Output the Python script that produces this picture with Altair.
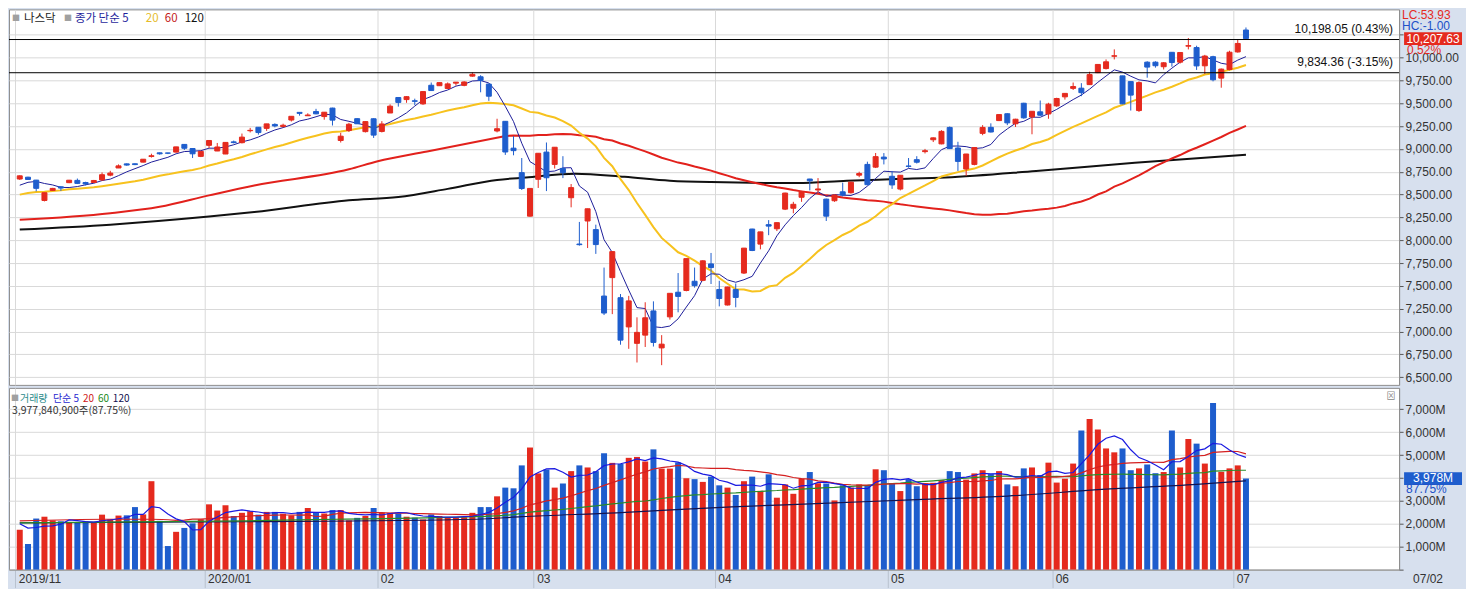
import altair as alt
import pandas as pd

# ---------------- data ----------------
opens = [8670, 8690, 8658, 8435, 8545, 8585, 8630, 8655, 8632, 8632,
         8660, 8712, 8791, 8836, 8837, 8855, 8917, 8957, 8955, 8965,
         9049, 9004, 8918, 9039, 8977, 8944, 9077, 9068, 9199, 9237,
         9225, 9268, 9245, 9316, 9400, 9363, 9409, 9354, 9447, 9092,
         9201, 9331, 9189, 9330, 9191, 9393, 9563, 9540, 9527, 9493,
         9697, 9692, 9662, 9720, 9696, 9797, 9790, 9710, 9196, 9302,
         9008, 8740, 8263, 8667, 8965, 8830, 8786, 8465, 7958, 8210,
         8116, 7388, 7590, 7370, 7050, 6870, 6960, 7225, 6820, 7160,
         7430, 7449, 7550, 7560, 7740, 7460, 7290, 7459, 7640, 8122,
         7957, 8170, 8125, 8340, 8350, 8470, 8670, 8550, 8450, 8432,
         8530, 8520, 8712, 8830, 8800, 8910, 8700, 8560, 8812, 8882,
         8970, 9100, 9055, 9235, 9010, 8780, 8830, 9170, 9236, 9310,
         9385, 9275, 9500, 9350, 9406, 9383, 9471, 9570, 9663, 9665,
         9704, 9835, 9880, 10015, 9800, 9737, 9420, 9950, 9950, 9900,
         10058, 9950, 10125, 10110, 9910, 10010, 9775, 9870, 10062, 10302]
highs = [8710, 8695, 8660, 8520, 8573, 8590, 8660, 8675, 8640, 8660,
         8742, 8760, 8830, 8840, 8841, 8888, 8947, 8960, 8957, 9023,
         9052, 9006, 8973, 9093, 9065, 9072, 9091, 9168, 9230, 9239,
         9274, 9280, 9276, 9357, 9400, 9390, 9439, 9404, 9451, 9176,
         9285, 9336, 9303, 9335, 9304, 9488, 9563, 9577, 9550, 9628,
         9727, 9728, 9728, 9732, 9741, 9838, 9807, 9712, 9330, 9305,
         9140, 8900, 8567, 8952, 9070, 9018, 8920, 8615, 8200, 8345,
         8170, 7700, 7875, 7410, 7390, 7155, 7320, 7330, 6960, 7420,
         7640, 7800, 7700, 7780, 7860, 7555, 7490, 7525, 7915, 8125,
         8092, 8220, 8195, 8520, 8420, 8540, 8672, 8680, 8455, 8500,
         8630, 8640, 8750, 8860, 8955, 8954, 8758, 8711, 8900, 8920,
         9000, 9125, 9205, 9245, 9078, 8945, 9020, 9260, 9280, 9380,
         9390, 9330, 9505, 9415, 9530, 9505, 9560, 9610, 9727, 9720,
         9845, 9927, 9980, 10090, 9801, 9740, 9740, 9960, 9960, 9950,
         10060, 10060, 10215, 10130, 10030, 10020, 9880, 10075, 10200, 10330]
lows = [8660, 8660, 8535, 8425, 8540, 8540, 8625, 8615, 8600, 8630,
        8650, 8700, 8790, 8815, 8822, 8852, 8905, 8937, 8943, 8960,
        8988, 8900, 8910, 9010, 8976, 8943, 9060, 9060, 9180, 9156,
        9197, 9236, 9236, 9300, 9364, 9360, 9379, 9320, 9256, 9070,
        9185, 9272, 9180, 9120, 9180, 9393, 9463, 9505, 9480, 9483,
        9635, 9690, 9655, 9693, 9686, 9790, 9620, 9526, 9181, 8934,
        8930, 8550, 8258, 8572, 8538, 8785, 8680, 8360, 7940, 7914,
        7850, 7180, 7190, 6855, 6810, 6660, 6830, 6835, 6631, 7130,
        7210, 7440, 7480, 7550, 7520, 7275, 7285, 7265, 7630, 7880,
        7900, 8055, 8100, 8330, 8295, 8420, 8545, 8510, 8210, 8420,
        8480, 8510, 8690, 8600, 8790, 8830, 8562, 8545, 8794, 8840,
        8950, 9075, 9050, 9000, 8758, 8705, 8820, 9150, 9180, 9305,
        9260, 9240, 9330, 9160, 9360, 9330, 9460, 9540, 9645, 9577,
        9700, 9830, 9870, 9980, 9490, 9420, 9405, 9780, 9890, 9870,
        9900, 9935, 10090, 9865, 9820, 9740, 9670, 9860, 10055, 10200]
closes = [8705, 8665, 8568, 8520, 8567, 8571, 8657, 8622, 8616, 8654,
          8717, 8735, 8814, 8823, 8828, 8887, 8925, 8946, 8953, 9022,
          9007, 8946, 8973, 9092, 9021, 9071, 9069, 9129, 9203, 9179,
          9274, 9251, 9259, 9357, 9389, 9371, 9384, 9402, 9315, 9139,
          9270, 9275, 9299, 9151, 9273, 9468, 9509, 9572, 9521, 9628,
          9639, 9726, 9712, 9731, 9733, 9817, 9751, 9577, 9221, 8966,
          8981, 8566, 8567, 8952, 8684, 9018, 8739, 8576, 7951, 8344,
          7952, 7202, 7875, 6905, 7335, 6990, 7150, 6880, 6861, 7418,
          7384, 7798, 7502, 7774, 7700, 7361, 7487, 7373, 7913, 7887,
          8091, 8154, 8192, 8516, 8393, 8532, 8650, 8561, 8263, 8495,
          8495, 8635, 8730, 8608, 8915, 8890, 8605, 8711, 8809, 8854,
          8980, 9121, 9192, 9003, 8863, 8944, 9015, 9235, 9185, 9376,
          9285, 9325, 9340, 9412, 9369, 9490, 9552, 9608, 9683, 9616,
          9814, 9925, 9954, 10020, 9493, 9589, 9726, 9896, 9911, 9943,
          9946, 10056, 10131, 9909, 10017, 9757, 9874, 10059, 10155, 10208]
volumes = [1740, 1120, 2230, 2310, 2150, 2110, 2040, 2080, 2110, 2040,
           2400, 2200, 2360, 2370, 2730, 2410, 3860, 2130, 1030, 1650,
           1820, 2020, 2200, 2850, 2580, 2810, 2340, 2480, 2550, 2400,
           2520, 2520, 2440, 2370, 2520, 2690, 2480, 2450, 2600, 2600,
           2150, 2260, 2340, 2690, 2480, 2480, 2450, 2310, 2270, 2190,
           2410, 2340, 2270, 2270, 2290, 2480, 2730, 2730, 3200, 3580,
           3550, 4550, 5330, 4200, 4370, 3580, 3760, 4300, 4550, 4460,
           4300, 5080, 4660, 4610, 4880, 4920, 4720, 5250, 4410, 4410,
           4680, 3990, 3950, 3830, 4060, 3680, 3580, 3260, 3860, 4060,
           3440, 4160, 3140, 3720, 3310, 3970, 4260, 3770, 3760, 3020,
           3680, 3580, 3720, 3680, 4380, 4340, 3760, 3430, 3950, 3640,
           3760, 3790, 3910, 4300, 4260, 3930, 4200, 4340, 4170, 4300,
           3720, 3640, 4420, 4460, 4130, 4670, 3800, 3970, 4630, 6070,
           6570, 6120, 5290, 5120, 5290, 4340, 4420, 4590, 4210, 4260,
           6070, 4460, 5700, 5500, 4630, 7270, 4270, 4420, 4550, 3978]

# closes / volumes of the sessions just before the first candle (feed the averages)
prior_closes = [8292, 8386, 8433, 8435, 8411, 8435, 8475, 8464, 8486, 8482,
                8479, 8541, 8550, 8571, 8527, 8506, 8520, 8632, 8648]
prior_volumes = [2050, 2100, 2000, 2110]

month_start_idx = [0, 23, 44, 63, 85, 106, 126, 148]
month_labels = ["2019/11", "2020/01", "02", "03", "04", "05", "06", "07"]

# long averages (bar index, value)
ma60_early_idx = [0, 11, 17, 23, 28.5, 40, 43.5, 49.5, 59]
ma60_early_val = [8223, 8295, 8366, 8491, 8600, 8776, 8865, 8972, 9141]
ma120_idx = [0, 11, 23, 28.5, 40, 46, 52, 58, 61.5, 67.5, 73.5, 79, 84,
             94.5, 100.5, 106.5, 112.5, 123.5, 135.5, 149]
ma120_val = [8117, 8170, 8259, 8308, 8437, 8473, 8562, 8660, 8687, 8729, 8694,
             8651, 8636, 8626, 8651, 8669, 8687, 8758, 8847, 8936]
vma20_early_idx = [0, 10.5, 16, 19]
vma20_early_val = [2130, 2200, 2200, 2154]
vma60_early_idx = [0, 27.5, 38.5, 55.5, 59]
vma60_early_val = [2040, 2130, 2200, 2310, 2370]
vma120_idx = [0, 27.5, 55.5, 61, 72.5, 86.5, 97.5, 109, 120, 131.5, 143, 149]
vma120_val = [2040, 2090, 2200, 2310, 2480, 2740, 2890, 3060, 3210, 3500, 3720, 3880]

hline_prices = [10198.05, 9834.36]
hline_texts = ["10,198.05 (0.43%)", "9,834.36 (-3.15%)"]
last_close = [10207.63]
last_volume = [3977.8409]

# ---------------- styling ----------------
RED = "#e52a1e"
BLUE = "#1e5dcd"
GOLD = "#f7c21e"
RED60 = "#e2211c"
NAVY = "#1e1e9a"
BLK = "#111111"
BG = "#d7e0ee"
GRID = "#d9d9d9"
KR = "Noto Sans CJK KR"
NUM = "Liberation Sans"

W, H1, H2 = 1392, 376, 182

n = len(closes)
df = pd.DataFrame({"i": list(range(n)), "open": opens, "high": highs,
                   "low": lows, "close": closes, "vol": volumes})
ma_df = pd.DataFrame({"i": list(range(-len(prior_closes), 0)) + list(range(n)),
                      "close": prior_closes + closes})
vma_df = pd.DataFrame({"i": list(range(-len(prior_volumes), 0)) + list(range(n)),
                       "vol": prior_volumes + volumes})

XS = alt.Scale(domain=[-0.7, 167.0], nice=False, zero=False)
PS = alt.Scale(domain=[6415, 10528], nice=False, zero=False)
VS = alt.Scale(domain=[0, 7934], nice=False, zero=False)

tick_vals = [m - 0.55 for m in month_start_idx]
expr = "'" + month_labels[-1] + "'"
for k in range(len(month_start_idx) - 2, -1, -1):
    expr = f"datum.value < {month_start_idx[k + 1] - 1} ? '{month_labels[k]}' : ({expr})"

PXAX = alt.Axis(values=tick_vals, grid=True, gridColor=GRID, labels=False,
                ticks=False, domain=False, title=None)
VXAX = alt.Axis(values=tick_vals, grid=True, gridColor=GRID, labelExpr=expr,
                tickSize=18, tickColor="#b9c2cf", labelPadding=-9, labelAlign="left",
                labelBaseline="middle", labelOffset=3, labelFlush=False, labelOverlap=False,
                domain=True, domainColor="#8f8f8f", title=None, labelFontSize=12,
                labelColor="#333333", labelFont=NUM)
# labels hidden behind the last-price / last-volume badges in the reference
PYAX = alt.Axis(orient="right", values=list(range(6500, 10251, 250)),
                labelExpr="datum.value > 10100 ? '' : format(datum.value, ',.2f')",
                grid=True, gridColor=GRID, tickSize=4, tickColor="#555555",
                labelPadding=2, labelFlush=False, labelOverlap=False,
                domainColor="#8f8f8f", title=None, minExtent=66, maxExtent=66,
                labelFontSize=12, labelColor="#333333", labelFont=NUM)
VYAX = alt.Axis(orient="right", values=list(range(0, 7001, 1000)),
                labelExpr="(datum.value == 0 || datum.value == 4000) ? '' : format(datum.value, ',') + 'M'",
                grid=True, gridColor=GRID, tickSize=4, tickColor="#555555",
                labelPadding=2, labelFlush=False, labelOverlap=False,
                domainColor="#8f8f8f", title=None, minExtent=66, maxExtent=66,
                labelFontSize=12, labelColor="#333333", labelFont=NUM)

Xp = alt.X("i:Q", scale=XS, axis=PXAX)
Xv = alt.X("i:Q", scale=XS, axis=VXAX)


def Yp(f):
    return alt.Y(f, type="quantitative", scale=PS, axis=PYAX)


def Yv(f):
    return alt.Y(f, type="quantitative", scale=VS, axis=VYAX)


up = alt.datum.close > alt.datum.open
col = alt.condition(up, alt.value(RED), alt.value(BLUE))
one = pd.DataFrame({"k": [0]})


def txt(s, px, py, color, size=12, align="left", font=KR, weight="normal"):
    return alt.Chart(one).mark_text(text=s, align=align, baseline="middle", color=color,
                                    fontSize=size, font=font, fontWeight=weight).encode(
        x=alt.value(px), y=alt.value(py))


def computed_ma(data, field, nwin, start, color, width, X, Y):
    return (alt.Chart(data)
            .transform_window(m=f"mean({field})", frame=[-(nwin - 1), 0], sort=[alt.SortField("i")])
            .transform_filter(alt.datum.i >= start)
            .mark_line(color=color, strokeWidth=width)
            .encode(x=X, y=Y("m")))


def sampled(idx, val, color, width, X, Y):
    return alt.Chart(pd.DataFrame({"i": idx, "v": val})).mark_line(
        color=color, strokeWidth=width, interpolate="monotone").encode(x=X, y=Y("v"))


BADGE = "M-1,-0.22L1,-0.22L1,0.22L-1,0.22Z"

# ---------------- price panel ----------------
price_layers = [
    sampled(ma120_idx, ma120_val, BLK, 2, Xp, Yp),
    sampled(ma60_early_idx, ma60_early_val, RED60, 2, Xp, Yp),
    computed_ma(df, "close", 60, 59, RED60, 2, Xp, Yp),
    computed_ma(ma_df, "close", 20, 0, GOLD, 2, Xp, Yp),
    computed_ma(ma_df, "close", 5, 0, NAVY, 1, Xp, Yp),
    alt.Chart(df).mark_rule(strokeWidth=1).encode(x=Xp, y=Yp("low"), y2="high:Q", color=col),
    alt.Chart(df).mark_bar(size=5, strokeWidth=1).encode(
        x=Xp, y=Yp("open"), y2="close:Q", fill=col, stroke=col),
    alt.Chart(pd.DataFrame({"p": hline_prices, "t": hline_texts})).mark_rule(
        color="black", strokeWidth=1).encode(y=Yp("p")),
    alt.Chart(pd.DataFrame({"p": hline_prices, "t": hline_texts})).mark_text(
        align="right", baseline="bottom", dy=-4, fontSize=12, font=NUM, color="#111111").encode(
        x=alt.value(W - 6), y=Yp("p"), text="t:N"),
    # legend
    txt("■", 3, 10, "#a0a0a0", size=8),
    txt("나스닥", 15, 10, "#222222", size=11.5),
    txt("■", 55, 10, "#a0a0a0", size=8),
    txt("종가 단순 5", 66, 10, "#1f1f9c", size=11.5),
    txt("20", 137, 10, "#e6bc2a", size=11.5),
    txt("60", 156, 10, "#c41a1a", size=11.5),
    txt("120", 176, 10, "#111111", size=11.5),
    # right side badges
    txt("LC:53.93", W + 3, 6, RED, size=12, font=NUM),
    txt("HC:-1.00", W + 3, 17, "#2050c8", size=12, font=NUM),
    alt.Chart(pd.DataFrame({"p": last_close})).mark_point(
        shape=BADGE, size=3364, filled=True, color=RED, opacity=1).encode(
        x=alt.value(W + 34), y=Yp("p")),
    alt.Chart(pd.DataFrame({"p": last_close})).mark_text(
        color="white", fontSize=12, font=NUM, baseline="middle").encode(
        x=alt.value(W + 34), y=Yp("p"), text=alt.Text("p:Q", format=",.2f")),
    alt.Chart(pd.DataFrame({"p": last_close})).mark_text(
        color=RED, fontSize=12, font=NUM, align="left", baseline="middle", dy=11).encode(
        x=alt.value(W + 8), y=Yp("p"), text=alt.value("0.52%")),
]
price = alt.layer(*price_layers).properties(width=W, height=H1)

# ---------------- volume panel ----------------
vol_layers = [
    alt.Chart(df).mark_bar(size=6).encode(x=Xv, y=Yv("vol"), color=col),
    sampled(vma120_idx, vma120_val, "#141450", 1.2, Xv, Yv),
    sampled(vma60_early_idx, vma60_early_val, "#2a8a2a", 1.2, Xv, Yv),
    computed_ma(df, "vol", 60, 59, "#2a8a2a", 1.2, Xv, Yv),
    sampled(vma20_early_idx, vma20_early_val, "#d42020", 1.2, Xv, Yv),
    computed_ma(df, "vol", 20, 19, "#d42020", 1.2, Xv, Yv),
    computed_ma(vma_df, "vol", 5, 0, "#1a1ae0", 1.2, Xv, Yv),
    txt("■", 2, 11, "#a0a0a0", size=8),
    txt("거래량", 11, 11, "#2a8a8a", size=10),
    txt("단순 5", 44, 11, "#1f1fd0", size=10),
    txt("20", 74, 11, "#d02020", size=10),
    txt("60", 89, 11, "#208a20", size=10),
    txt("120", 104, 11, "#101050", size=10),
    txt("3,977,840,900주(87.75%)", 3, 23, "#333333", size=10.5),
    txt("⊠", W - 8, 8, "#888888", size=9, align="center"),
    alt.Chart(pd.DataFrame({"v": last_volume})).mark_point(
        shape=BADGE, size=3364, filled=True, color=BLUE, opacity=1).encode(
        x=alt.value(W + 34), y=Yv("v")),
    alt.Chart(pd.DataFrame({"v": last_volume})).mark_text(
        color="white", fontSize=12, font=NUM, baseline="middle").encode(
        x=alt.value(W + 34), y=Yv("v"), text=alt.value("3,978M")),
    alt.Chart(pd.DataFrame({"v": last_volume})).mark_text(
        color="#2050c8", fontSize=12, font=NUM, align="left", baseline="middle", dy=11).encode(
        x=alt.value(W + 7), y=Yv("v"), text=alt.value("87.75%")),
    txt("07/02", W + 14, H2 + 9, "#333333", size=12, font=NUM),
]
volume = alt.layer(*vol_layers).properties(width=W, height=H2)

chart = (alt.vconcat(price, volume, spacing=1)
         .properties(padding=0, background=BG)
         .configure_view(stroke="#8f8f8f", strokeWidth=1, fill="white"))

chart.save("out.html", embed_options={"renderer": "svg", "actions": False})
